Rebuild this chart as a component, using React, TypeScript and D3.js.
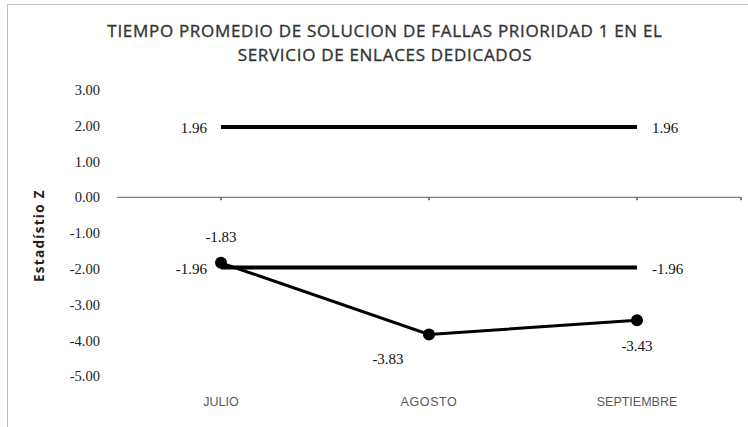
import React, { useEffect, useRef } from 'react'
import * as d3 from 'd3'

const months = ['JULIO', 'AGOSTO', 'SEPTIEMBRE']
const zValues = [-1.83, -3.83, -3.43]
const upperLimit = [1.96, 1.96, 1.96]
const lowerLimit = [-1.96, -1.96, -1.96]
const yTicks = [3, 2, 1, 0, -1, -2, -3, -4, -5]

const App = () => {
    const ref = useRef<SVGSVGElement>(null)

    useEffect(() => {
        const svg = d3.select(ref.current)
        svg.selectAll('*').remove()

        const x = d3.scaleBand().domain(months).range([117, 741])
        const cx = (m: string) => (x(m) as number) + x.bandwidth() / 2
        const y = d3.scaleLinear().domain([-5, 3]).range([376.4, 89.8])

        // chart border
        svg.append('path')
            .attr('d', 'M7.5,430 V4.5 H760')
            .attr('fill', 'none')
            .attr('stroke', '#bfbfbf')
            .attr('stroke-width', 1)

        const title = svg.append('text')
            .attr('text-anchor', 'middle')
            .attr('font-family', 'Open Sans, sans-serif')
            .attr('font-size', 17)
            .attr('letter-spacing', 0.7)
            .attr('fill', '#333')
            .attr('stroke', '#333')
            .attr('stroke-width', 0.35)
        title.append('tspan').attr('x', 385).attr('y', 36.5)
            .text('TIEMPO PROMEDIO DE SOLUCION DE FALLAS PRIORIDAD 1 EN EL')
        title.append('tspan').attr('x', 385).attr('y', 60.5)
            .text('SERVICIO DE ENLACES DEDICADOS')

        // y tick labels
        svg.append('g').selectAll('text')
            .data(yTicks)
            .join('text')
            .attr('x', 100)
            .attr('y', d => y(d))
            .attr('dy', '0.35em')
            .attr('text-anchor', 'end')
            .attr('font-family', 'Liberation Serif, serif')
            .attr('font-size', 14.5)
            .attr('fill', '#222')
            .text(d => d.toFixed(2))

        svg.append('text')
            .attr('transform', `translate(44,${y(-1.07)}) rotate(-90)`)
            .attr('text-anchor', 'middle')
            .attr('font-family', 'Open Sans, sans-serif')
            .attr('font-weight', 'bold')
            .attr('font-size', 13.5)
            .attr('letter-spacing', 1.3)
            .attr('fill', '#222')
            .text('Estadístio Z')

        // zero axis
        svg.append('line')
            .attr('x1', 117).attr('x2', 741)
            .attr('y1', y(0)).attr('y2', y(0))
            .attr('stroke', '#7f7f7f')
            .attr('stroke-width', 1.2)
        svg.append('g').selectAll('line')
            .data([...months.map(cx), 741])
            .join('line')
            .attr('x1', d => d).attr('x2', d => d)
            .attr('y1', y(0)).attr('y2', y(0) + 3)
            .attr('stroke', '#555')
            .attr('stroke-width', 1.5)

        // x labels
        svg.append('g').selectAll('text')
            .data(months)
            .join('text')
            .attr('x', d => cx(d))
            .attr('y', 406)
            .attr('text-anchor', 'middle')
            .attr('font-family', 'Liberation Sans Narrow, sans-serif')
            .attr('font-size', 12.5)
            .attr('letter-spacing', d => d === 'AGOSTO' ? 0.6 : 0)
            .attr('fill', '#595959')
            .text(d => d)

        const line = d3.line<number>()
            .x((_, i) => cx(months[i]))
            .y(d => y(d))

        for (const lim of [upperLimit, lowerLimit]) {
            svg.append('path')
                .attr('d', line(lim))
                .attr('fill', 'none')
                .attr('stroke', '#000')
                .attr('stroke-width', 4)
        }

        svg.append('path')
            .attr('d', line(zValues))
            .attr('fill', 'none')
            .attr('stroke', '#000')
            .attr('stroke-width', 3)

        svg.append('g').selectAll('circle')
            .data(zValues)
            .join('circle')
            .attr('cx', (_, i) => cx(months[i]))
            .attr('cy', d => y(d))
            .attr('r', 6)
            .attr('fill', '#000')

        const labelFont = (s: any) => s
            .attr('font-family', 'Liberation Serif, serif')
            .attr('font-size', 15)
            .attr('fill', '#111')
            .attr('dy', '0.35em')

        // limit labels, left of first and right of last point
        for (const lim of [upperLimit, lowerLimit]) {
            svg.append('text')
                .attr('x', cx(months[0]) - 14)
                .attr('y', y(lim[0]) + 1)
                .attr('text-anchor', 'end')
                .call(labelFont)
                .text(lim[0].toFixed(2))
            svg.append('text')
                .attr('x', cx(months[2]) + 15)
                .attr('y', y(lim[2]) + 1)
                .attr('text-anchor', 'start')
                .call(labelFont)
                .text(lim[2].toFixed(2))
        }

        // value labels
        const offsets = [[0, -26], [-41, 24], [0, 26]]
        svg.append('g').selectAll('text')
            .data(zValues)
            .join('text')
            .attr('x', (_, i) => cx(months[i]) + offsets[i][0])
            .attr('y', (d, i) => y(d) + offsets[i][1])
            .attr('text-anchor', 'middle')
            .call(labelFont)
            .text(d => d.toFixed(2))
    }, [])

    return (
        <svg ref={ref} width={748} height={427}
            style={{ position: 'absolute', left: 0, top: 0, background: '#fff' }} />
    )
}

export default App
